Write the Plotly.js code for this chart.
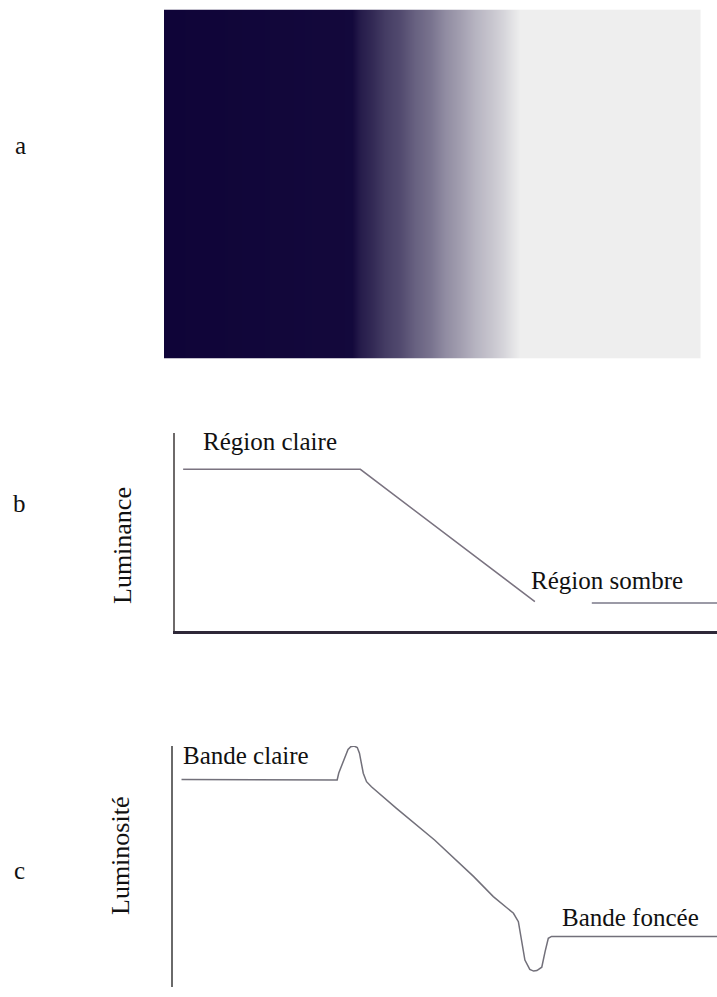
<!DOCTYPE html>
<html>
<head>
<meta charset="utf-8">
<script src="https://cdn.plot.ly/plotly-3.0.1.min.js"></script>
<style>html,body{margin:0;padding:0;background:#fff;}#chart{width:717px;height:997px;}</style>
</head>
<body>
<div id="chart"></div>
<script>
// Panel a: gradient samples (position across panel 0-100, brightness 0 dark - 1 light)
const gradPos = [0, 35.1, 36.6, 38.8, 41.2, 44.0, 46.8, 49.6, 52.4, 55.2, 58.0, 60.8, 63.1, 64.9, 66.4, 100];
const gradLum = [0, 0.02, 0.10, 0.16, 0.24, 0.30, 0.40, 0.47, 0.58, 0.66, 0.75, 0.82, 0.89, 0.95, 1.0, 1.0];

// Panel b: luminance profile (two segments)
const bPos1 = [1.5, 34.2, 66.4];
const bLum1 = [81.6, 81.6, 14.6];
const bPos2 = [76.9, 100];
const bLum2 = [13.9, 13.9];

// Panel c: perceived brightness profile (Mach bands)
const cPos = [1.6, 30.2, 30.5, 31.5, 32.2, 32.7, 33.3, 33.9, 34.3, 35.0, 35.6, 36.5, 41.1, 48.1, 55.3, 58.9, 62.6, 63.5, 64.1, 64.7, 65.6, 66.3, 66.9, 67.8, 68.4, 69.0, 69.6, 100];
const cLum = [86.1, 85.9, 88.8, 94.2, 98.6, 99.7, 100, 99.4, 97.0, 88.7, 85.2, 83.1, 74.1, 61.0, 45.8, 37.5, 30.6, 27.1, 19.5, 11.2, 7.3, 6.6, 6.8, 8.2, 14.6, 20.2, 21.0, 21.0];

// Text labels
const panelLabels = ['a', 'b', 'c'];
const bLabels = ['Région claire', 'Région sombre'];
const cLabels = ['Bande claire', 'Bande foncée'];
const yTitles = ['Luminance', 'Luminosité'];

const W = 717, H = 997;
const px = v => v / W;
const py = v => 1 - v / H;

const serif = 'Liberation Serif, Times New Roman, serif';

const traces = [
  {
    type: 'heatmap',
    x: gradPos,
    y: [0, 1],
    z: [gradLum, gradLum],
    zmin: 0, zmax: 1,
    zsmooth: 'best',
    colorscale: [[0, '#0f0438'], [1, '#eeeeee']],
    showscale: false,
    hoverinfo: 'skip',
    xaxis: 'x', yaxis: 'y'
  },
  {
    type: 'scatter', mode: 'lines',
    x: bPos1, y: bLum1,
    line: {color: '#7a7380', width: 1.5},
    cliponaxis: false,
    xaxis: 'x2', yaxis: 'y2', hoverinfo: 'skip'
  },
  {
    type: 'scatter', mode: 'lines',
    x: bPos2, y: bLum2,
    line: {color: '#7a7888', width: 1.5},
    cliponaxis: false,
    xaxis: 'x2', yaxis: 'y2', hoverinfo: 'skip'
  },
  {
    type: 'scatter', mode: 'lines',
    x: cPos, y: cLum,
    line: {color: '#72707a', width: 1.5},
    cliponaxis: false,
    xaxis: 'x3', yaxis: 'y3', hoverinfo: 'skip'
  }
];

const hidden = {showgrid: false, zeroline: false, showticklabels: false, ticks: '', fixedrange: true};

const layout = {
  width: W, height: H,
  margin: {l: 0, r: 0, t: 0, b: 0},
  paper_bgcolor: '#ffffff',
  plot_bgcolor: 'rgba(0,0,0,0)',
  showlegend: false,
  xaxis: Object.assign({}, hidden, {domain: [px(164), px(700.5)], range: [0, 100], anchor: 'y', showline: false}),
  yaxis: Object.assign({}, hidden, {domain: [py(358.5), py(9.5)], range: [0, 1], anchor: 'x', showline: false}),
  xaxis2: Object.assign({}, hidden, {domain: [px(175), 1], range: [0, 100], anchor: 'y2', showline: true, linecolor: '#2e2838', linewidth: 3}),
  yaxis2: Object.assign({}, hidden, {domain: [py(630.5), py(433)], range: [0, 100], anchor: 'x2', showline: true, linecolor: '#6e6a6a', linewidth: 2}),
  xaxis3: Object.assign({}, hidden, {domain: [px(172.8), 1], range: [0, 100], anchor: 'y3', showline: false}),
  yaxis3: Object.assign({}, hidden, {domain: [py(987), py(746)], range: [0, 100], anchor: 'x3', showline: true, linecolor: '#6a6a6a', linewidth: 1.5}),
  annotations: [
    {text: panelLabels[0], x: px(20), y: py(146), xref: 'paper', yref: 'paper', xanchor: 'center', yanchor: 'middle', showarrow: false, font: {family: serif, size: 25, color: '#111'}},
    {text: panelLabels[1], x: px(19), y: py(503), xref: 'paper', yref: 'paper', xanchor: 'center', yanchor: 'middle', showarrow: false, font: {family: serif, size: 25, color: '#111'}},
    {text: panelLabels[2], x: px(19), y: py(870), xref: 'paper', yref: 'paper', xanchor: 'center', yanchor: 'middle', showarrow: false, font: {family: serif, size: 25, color: '#111'}},
    {text: bLabels[0], x: px(202), y: py(442), xref: 'paper', yref: 'paper', xanchor: 'left', yanchor: 'middle', showarrow: false, borderpad: 0, font: {family: serif, size: 25, color: '#111'}},
    {text: bLabels[1], x: px(530), y: py(580), xref: 'paper', yref: 'paper', xanchor: 'left', yanchor: 'middle', showarrow: false, borderpad: 0, font: {family: serif, size: 25, color: '#111'}},
    {text: cLabels[0], x: px(181.5), y: py(755.5), xref: 'paper', yref: 'paper', xanchor: 'left', yanchor: 'middle', showarrow: false, borderpad: 0, font: {family: serif, size: 25, color: '#111'}},
    {text: cLabels[1], x: px(561), y: py(917.5), xref: 'paper', yref: 'paper', xanchor: 'left', yanchor: 'middle', showarrow: false, borderpad: 0, font: {family: serif, size: 25, color: '#111'}},
    {text: yTitles[0], x: px(122), y: py(546), xref: 'paper', yref: 'paper', xanchor: 'center', yanchor: 'middle', textangle: -90, showarrow: false, font: {family: serif, size: 26, color: '#111'}},
    {text: yTitles[1], x: px(120), y: py(856), xref: 'paper', yref: 'paper', xanchor: 'center', yanchor: 'middle', textangle: -90, showarrow: false, font: {family: serif, size: 26, color: '#111'}}
  ]
};

Plotly.newPlot('chart', traces, layout, {displayModeBar: false, staticPlot: true});
</script>
</body>
</html>
